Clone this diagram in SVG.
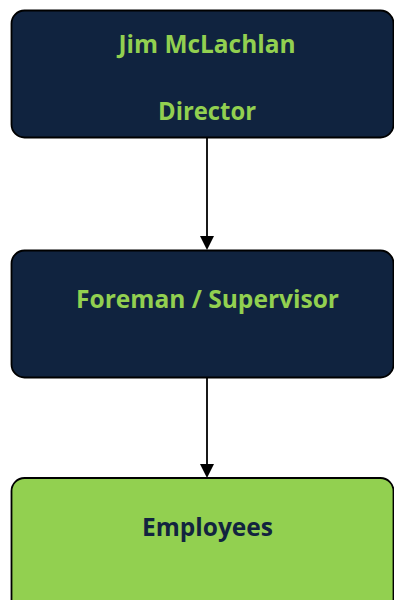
<svg xmlns="http://www.w3.org/2000/svg" width="394" height="600" viewBox="0 0 394 600">
<defs>
<style>
.box{stroke:#000;stroke-width:1.8}
.dark{fill:#10233f}
.light{fill:#92d050}
.t{font-family:"Open Sans","Liberation Sans",sans-serif;font-weight:bold;font-size:24.5px;text-anchor:middle}
.tg{fill:#92d050}
.tn{fill:#12243f}
.conn{stroke:#000;stroke-width:1.8;fill:none}
.head{fill:#000}
</style>
</defs>
<rect width="394" height="600" fill="#fff"/>
<g id="connectors">
<line class="conn" x1="207" y1="138" x2="207" y2="237"/>
<path class="head" d="M200,236 L214,236 L207,250 z"/>
<line class="conn" x1="207" y1="378" x2="207" y2="465"/>
<path class="head" d="M200,464 L214,464 L207,478 z"/>
</g>
<g id="director">
<rect class="box dark" x="11.5" y="10.5" width="382" height="127" rx="13"/>
<text class="t tg" x="207" y="53" textLength="177" lengthAdjust="spacingAndGlyphs">Jim McLachlan</text>
<text class="t tg" x="207" y="120" textLength="98" lengthAdjust="spacingAndGlyphs">Director</text>
</g>
<g id="foreman">
<rect class="box dark" x="11.5" y="250.5" width="382" height="127" rx="13"/>
<text class="t tg" x="207.5" y="308" textLength="263" lengthAdjust="spacingAndGlyphs">Foreman / Supervisor</text>
</g>
<g id="employees">
<rect class="box light" x="11.5" y="478" width="382" height="140" rx="13"/>
<text class="t tn" x="207.5" y="536" textLength="131" lengthAdjust="spacingAndGlyphs">Employees</text>
</g>
</svg>
